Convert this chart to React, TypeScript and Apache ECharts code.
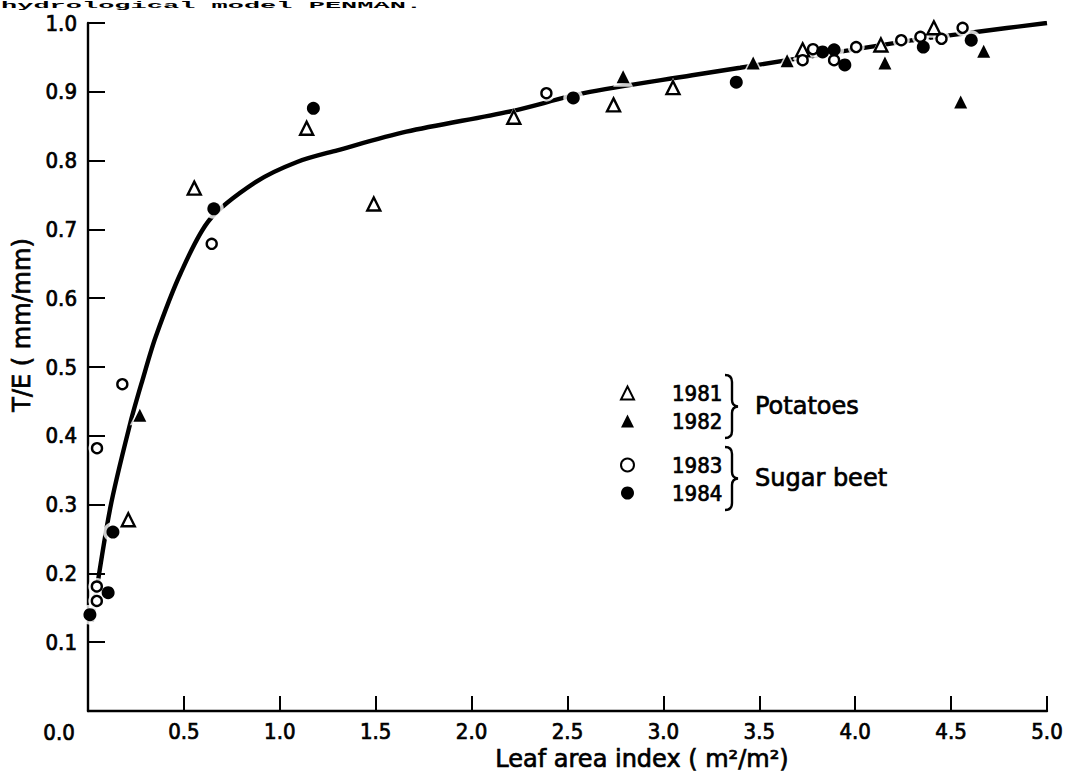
import React, { useEffect, useRef } from "react";
import * as echarts from "echarts";

// ---- data ----
const X_MIN = 0;
const X_MAX = 5;
const X_STEP = 0.5;
const Y_MIN = 0;
const Y_MAX = 1;
const Y_STEP = 0.1;

// 1981 potatoes (open triangles)
const potatoes1981: number[][] = [
  [0.21, 0.278], [0.554, 0.76], [1.14, 0.847], [1.49, 0.737], [2.22, 0.863],
  [2.74, 0.881], [3.05, 0.906], [3.726, 0.961], [4.134, 0.968], [4.41, 0.993],
];
// 1982 potatoes (filled triangles)
const potatoes1982: number[][] = [
  [0.27, 0.43], [2.79, 0.922], [3.468, 0.942], [3.645, 0.945], [4.155, 0.942],
  [4.55, 0.885], [4.67, 0.959],
];
// 1983 sugar beet (open circles)
const beet1983: number[][] = [
  [0.047, 0.382], [0.179, 0.475], [0.046, 0.181], [0.046, 0.16], [0.645, 0.679],
  [2.39, 0.898], [3.726, 0.946], [3.78, 0.962], [3.89, 0.946], [4.005, 0.965],
  [4.24, 0.975], [4.34, 0.98], [4.45, 0.977], [4.56, 0.993],
];
// 1984 sugar beet (filled circles)
const beet1984: number[][] = [
  [0.01, 0.14], [0.105, 0.172], [0.13, 0.26], [0.656, 0.73], [1.175, 0.876],
  [2.53, 0.891], [3.38, 0.914], [3.83, 0.958], [3.89, 0.961], [3.946, 0.939],
  [4.355, 0.965], [4.605, 0.975],
];
// fitted curve
const curve: number[][] = [
  [0.02, 0.13], [0.116, 0.295], [0.221, 0.419], [0.284, 0.481], [0.353, 0.544],
  [0.484, 0.637], [0.634, 0.714], [0.876, 0.769], [1.09, 0.798], [1.3, 0.815],
  [1.66, 0.842], [2.21, 0.872], [2.585, 0.898], [3.15, 0.924], [3.4, 0.935],
  [4.3, 0.975], [4.63, 0.987], [5.0, 1.0],
];

const legendPotatoes = ["1981", "1982"];
const legendBeet = ["1983", "1984"];
const groupPotatoes = "Potatoes";
const groupBeet = "Sugar beet";
const xTitle = "Leaf area index ( m\u00B2/m\u00B2)";
const yTitle = "T/E ( mm/mm)";
const topCaption = "hydrological model PENMAN.";

const NUM_FONT = '"DejaVu Sans Condensed", "Liberation Sans Narrow", "DejaVu Sans", sans-serif';
const TXT_FONT = '"DejaVu Sans", "Liberation Sans", sans-serif';

echarts.graphic.registerShape(
  "brace",
  echarts.graphic.extendPath(
    "M0,0 Q7,0 7,7 L7,25 Q7,31 13,31.5 Q7,32 7,38 L7,56 Q7,63 0,63",
    {}
  ) as any
);

const seriesDefs = [
  { name: "1981", data: potatoes1981, symbol: "triangle", size: 13, fill: "#fff", border: 2.4 },
  { name: "1982", data: potatoes1982, symbol: "triangle", size: 13, fill: "#000", border: 0 },
  { name: "1983", data: beet1983, symbol: "circle", size: 10, fill: "#fff", border: 2.4 },
  { name: "1984", data: beet1984, symbol: "circle", size: 13, fill: "#000", border: 0 },
];

export default function App() {
  const ref = useRef<HTMLDivElement>(null);

  useEffect(() => {
    if (!ref.current) return;
    const chart = echarts.init(ref.current, undefined, { renderer: "svg" });

    const haloData: any[] = [];
    seriesDefs.forEach((s) => {
      s.data.forEach((p) => {
        haloData.push({ value: p, symbol: s.symbol, symbolSize: s.size + 7 });
      });
    });

    const numText = {
      fontFamily: NUM_FONT,
      fontSize: 22,
      color: "#000",
      textBorderColor: "#000",
      textBorderWidth: 0.7,
    };
    const txtStyle = (size: number) => ({
      font: `${size}px ${TXT_FONT}`,
      fill: "#000",
      stroke: "#000",
      lineWidth: 0.7,
    });

    const legendCommon = {
      orient: "vertical" as const,
      left: 620,
      padding: 0,
      itemGap: 4,
      itemWidth: 13,
      itemHeight: 13,
      selectedMode: false,
      textStyle: {
        ...numText,
        lineHeight: 24,
        padding: [0, 0, 0, 33],
      },
    };

    const option: any = {
      animation: false,
      backgroundColor: "#fff",
      grid: { left: 88, right: 35, top: 23, bottom: 62, containLabel: false },
      xAxis: {
        type: "value",
        min: X_MIN,
        max: X_MAX,
        interval: X_STEP,
        axisLine: { show: true, lineStyle: { color: "#000", width: 2.4 } },
        axisTick: { show: true, inside: true, length: 15, lineStyle: { color: "#000", width: 2 } },
        splitLine: { show: false },
        axisLabel: {
          ...numText,
          showMinLabel: false,
          margin: 9,
          formatter: (v: number) => v.toFixed(1),
        },
      },
      yAxis: {
        type: "value",
        min: Y_MIN,
        max: Y_MAX,
        interval: Y_STEP,
        axisLine: { show: true, lineStyle: { color: "#000", width: 2.4 } },
        axisTick: { show: true, inside: true, length: 17, lineStyle: { color: "#000", width: 2 } },
        splitLine: { show: false },
        axisLabel: {
          ...numText,
          showMinLabel: false,
          margin: 11,
          formatter: (v: number) => v.toFixed(1),
        },
      },
      legend: [
        { ...legendCommon, top: 381, data: legendPotatoes },
        { ...legendCommon, top: 453, data: legendBeet },
      ],
      series: [
        {
          type: "line",
          name: "curve",
          data: curve,
          smooth: 0.3,
          showSymbol: false,
          symbol: "none",
          lineStyle: { color: "#000", width: 4.4 },
          silent: true,
          z: 1,
        },
        {
          type: "scatter",
          name: "halo",
          data: haloData,
          itemStyle: { color: "#fff" },
          silent: true,
          z: 2,
        },
        ...seriesDefs.map((s) => ({
          type: "scatter",
          name: s.name,
          data: s.data,
          symbol: s.symbol,
          symbolSize: s.size,
          itemStyle: {
            color: s.fill,
            borderColor: "#000",
            borderWidth: s.border,
            opacity: 1,
          },
          z: 3,
        })),
      ],
      graphic: [
        {
          type: "text",
          left: 43,
          top: 721,
          style: {
            text: "0.0",
            font: `22px ${NUM_FONT}`,
            fill: "#000",
            stroke: "#000",
            lineWidth: 0.7,
          },
        },
        {
          type: "text",
          x: 22,
          y: 325,
          rotation: Math.PI / 2,
          style: {
            text: yTitle,
            ...txtStyle(24),
            align: "center",
            verticalAlign: "middle",
          },
        },
        {
          type: "text",
          x: 642,
          y: 759,
          style: {
            text: xTitle,
            ...txtStyle(24),
            align: "center",
            verticalAlign: "middle",
          },
        },
        {
          type: "text",
          x: 1,
          y: 1,
          scaleY: 0.36,
          style: {
            text: topCaption,
            font: 'bold 27px "Liberation Mono", "DejaVu Sans Mono", monospace',
            fill: "#000",
            align: "left",
            verticalAlign: "top",
          },
        },
        {
          type: "brace",
          x: 725,
          y: 375,
          style: { stroke: "#000", fill: "none", lineWidth: 2.4 },
        },
        {
          type: "brace",
          x: 725,
          y: 447,
          style: { stroke: "#000", fill: "none", lineWidth: 2.4 },
        },
        {
          type: "text",
          x: 755,
          y: 406,
          style: { text: groupPotatoes, ...txtStyle(24), verticalAlign: "middle" },
        },
        {
          type: "text",
          x: 755,
          y: 478,
          style: { text: groupBeet, ...txtStyle(24), verticalAlign: "middle" },
        },
      ],
    };

    chart.setOption(option);
    return () => {
      chart.dispose();
    };
  }, []);

  return (
    <div
      ref={ref}
      style={{ position: "fixed", left: 0, top: 0, width: 1082, height: 773, background: "#fff" }}
    />
  );
}
